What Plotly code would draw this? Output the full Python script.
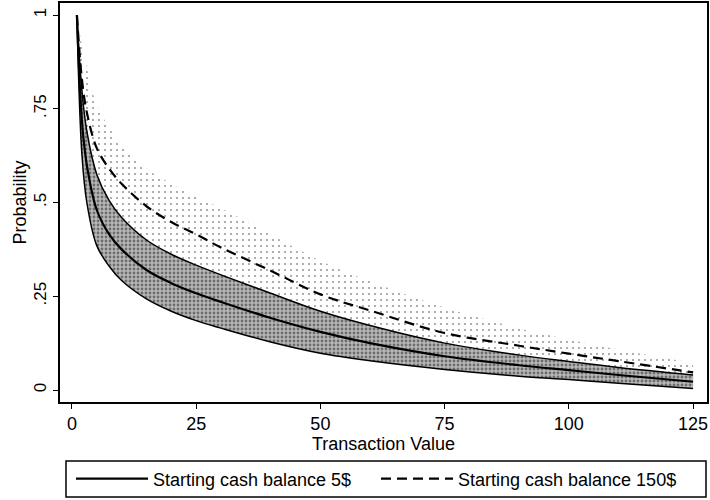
import plotly.graph_objects as go

# Transaction values (x) at which curves were read
tx_values = [1, 2, 3, 5, 7.5, 10, 15, 20, 25, 30, 40, 50, 60, 75, 90, 100, 110, 125]

# Starting cash balance 5$ : estimate and confidence band
p5 = [1.0, 0.72, 0.60, 0.48, 0.415, 0.375, 0.32, 0.285, 0.258, 0.235, 0.192, 0.155, 0.125, 0.09, 0.066, 0.053, 0.04, 0.022]
p5_hi = [1.0, 0.80, 0.69, 0.575, 0.505, 0.46, 0.40, 0.362, 0.333, 0.307, 0.258, 0.21, 0.172, 0.125, 0.093, 0.076, 0.06, 0.04]
p5_lo = [1.0, 0.63, 0.50, 0.385, 0.33, 0.292, 0.243, 0.21, 0.185, 0.165, 0.128, 0.098, 0.078, 0.055, 0.037, 0.028, 0.018, 0.004]

# Starting cash balance 150$ : estimate and confidence band
p150 = [1.0, 0.83, 0.74, 0.645, 0.59, 0.55, 0.49, 0.448, 0.415, 0.38, 0.318, 0.255, 0.212, 0.152, 0.118, 0.097, 0.077, 0.047]
p150_hi = [1.0, 0.92, 0.86, 0.76, 0.70, 0.65, 0.59, 0.55, 0.515, 0.485, 0.415, 0.345, 0.29, 0.22, 0.165, 0.135, 0.108, 0.072]
p150_lo = [1.0, 0.74, 0.62, 0.53, 0.48, 0.45, 0.39, 0.345, 0.315, 0.285, 0.225, 0.17, 0.135, 0.085, 0.07, 0.058, 0.045, 0.022]

x_ticks = [0, 25, 50, 75, 100, 125]
y_ticks = [0, 0.25, 0.5, 0.75, 1]
y_tick_text = ["0", ".25", ".5", ".75", "1"]

legend_names = ["Starting cash balance 5$", "Starting cash balance 150$"]

FONT = "Liberation Sans, Arial, sans-serif"

fig = go.Figure()

# 150$ band (sparse stipple)
fig.add_trace(go.Scatter(x=tx_values, y=p150_lo, mode="lines", line=dict(width=0, shape="spline"),
                         showlegend=False, hoverinfo="skip"))
fig.add_trace(go.Scatter(x=tx_values, y=p150_hi, mode="lines", line=dict(width=0, shape="spline"),
                         fill="tonexty", fillcolor="white",
                         fillpattern=dict(shape=".", fgcolor="#333333", bgcolor="white", size=6, solidity=0.1),
                         showlegend=False, hoverinfo="skip"))

# 5$ band (dense stipple) with outline
fig.add_trace(go.Scatter(x=tx_values, y=p5_lo, mode="lines", line=dict(width=1.5, color="black", shape="spline"),
                         showlegend=False, hoverinfo="skip"))
fig.add_trace(go.Scatter(x=tx_values, y=p5_hi, mode="lines", line=dict(width=1.5, color="black", shape="spline"),
                         fill="tonexty", fillcolor="#b0b0b0",
                         fillpattern=dict(shape=".", fgcolor="#222222", bgcolor="#b8b8b8", size=4, solidity=0.4),
                         showlegend=False, hoverinfo="skip"))

# Estimates
fig.add_trace(go.Scatter(x=tx_values, y=p5, mode="lines", name=legend_names[0],
                         line=dict(color="black", width=2.2, shape="spline")))
fig.add_trace(go.Scatter(x=tx_values, y=p150, mode="lines", name=legend_names[1],
                         line=dict(color="black", width=2.2, dash="10px,6px", shape="spline")))

# Legend frame (Stata-style box spanning the plot width)
fig.add_shape(type="rect", xref="paper", yref="paper",
              x0=(66 - 60) / 647, x1=(706 - 60) / 647,
              y0=(402 - 497) / 399, y1=(402 - 461) / 399,
              line=dict(color="black", width=1.5), fillcolor="rgba(0,0,0,0)", layer="above")

fig.update_layout(
    width=710, height=500,
    margin=dict(l=60, r=3, t=3, b=98, autoexpand=False),
    paper_bgcolor="white", plot_bgcolor="white",
    font=dict(family=FONT, size=17, color="black"),
    xaxis=dict(range=[-2.4, 127.8], tickvals=x_ticks, ticks="outside", ticklen=5, tickwidth=1.2,
               tickcolor="black", showline=True, linecolor="black", linewidth=1.5, mirror=True,
               showgrid=False, zeroline=False,
               title=dict(text="Transaction Value", standoff=0, font=dict(size=18)),
               tickfont=dict(size=18), automargin=False),
    yaxis=dict(range=[-0.032, 1.032], tickvals=y_ticks, ticktext=y_tick_text, tickangle=-90,
               ticks="outside", ticklen=5, tickwidth=1.2, tickcolor="black",
               showline=True, linecolor="black", linewidth=1.5, mirror=True,
               showgrid=False, zeroline=False,
               title=dict(text="Probability", standoff=0, font=dict(size=18)),
               tickfont=dict(size=17), automargin=False),
    legend=dict(orientation="h", x=(71 - 60) / 647, xanchor="left",
                y=(402 - 479) / 399, yanchor="middle",
                borderwidth=0, bgcolor="rgba(0,0,0,0)",
                entrywidth=218, entrywidthmode="pixels", itemwidth=72, font=dict(size=18),
                traceorder="normal", tracegroupgap=0),
)

fig.write_html("out.html")
